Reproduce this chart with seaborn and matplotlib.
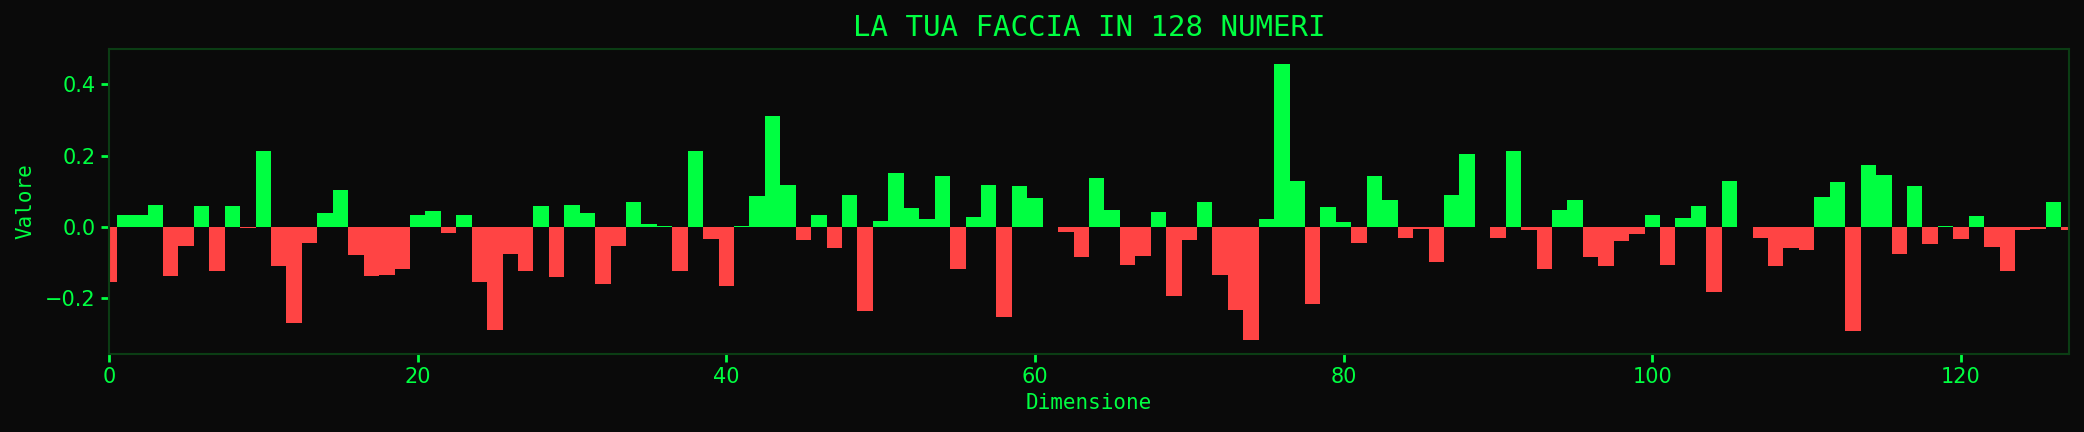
import seaborn as sns
import numpy as np
import matplotlib.pyplot as plt
import pandas as pd

# 128 valori dell'embedding
valori = [
    -0.154, 0.035, 0.033, 0.063, -0.137, -0.053, 0.058, -0.123,
    0.058, -0.003, 0.212, -0.109, -0.268, -0.046, 0.039, 0.103,
    -0.078, -0.137, -0.135, -0.118, 0.033, 0.044, -0.018, 0.033,
    -0.155, -0.289, -0.076, -0.124, 0.058, -0.141, 0.061, 0.038,
    -0.160, -0.054, 0.069, 0.0075, 0.002, -0.124, 0.212, -0.034,
    -0.166, 0.002, 0.086, 0.310, 0.119, -0.037, 0.035, -0.060,
    0.091, -0.236, 0.016, 0.150, 0.052, 0.021, 0.142, -0.118,
    0.027, 0.117, -0.253, 0.114, 0.080, 0.0, -0.015, -0.085,
    0.136, 0.047, -0.107, -0.082, 0.041, -0.194, -0.037, 0.069,
    -0.135, -0.233, -0.317, 0.021, 0.458, 0.128, -0.216, 0.055,
    0.013, -0.046, 0.142, 0.075, -0.032, -0.0065, -0.099, 0.089,
    0.206, 0.0, -0.032, 0.214, -0.009, -0.118, 0.049, 0.075,
    -0.085, -0.110, -0.040, -0.021, 0.035, -0.107, 0.024, 0.058,
    -0.183, 0.128, 0.0, -0.032, -0.110, -0.060, -0.065, 0.083,
    0.125, -0.292, 0.175, 0.145, -0.076, 0.114, -0.048, 0.002,
    -0.034, 0.030, -0.057, -0.124, -0.009, -0.0065, 0.069, -0.009,
]
dimensioni = list(range(len(valori)))

verde = "#00ff41"
rosso = "#ff4444"
sfondo = "#0a0a0a"
bordo = "#0b3d14"

df = pd.DataFrame({"dim": dimensioni, "val": valori})
df["segno"] = np.where(df["val"] >= 0, "pos", "neg")

fig = plt.figure(figsize=(20.84, 4.32), dpi=100, facecolor=sfondo)
ax = fig.add_axes([0.0523, 0.1806, 0.9405, 0.706])
ax.set_facecolor(sfondo)

sns.barplot(data=df, x="dim", y="val", hue="segno",
            palette={"pos": verde, "neg": rosso},
            native_scale=True, width=1, saturation=1,
            linewidth=0, legend=False, ax=ax)

ax.set_xlim(0, 127)
ax.set_ylim(-0.356, 0.499)
ax.set_xticks([0, 20, 40, 60, 80, 100, 120])
ax.set_yticks([-0.2, 0.0, 0.2, 0.4])

mono = ["DejaVu Sans Mono", "DejaVu Sans"]
ax.set_title("LA TUA FACCIA IN 128 NUMERI", color=verde, fontsize=21,
             pad=9, family=mono)
ax.set_xlabel("Dimensione", color=verde, fontsize=15, family=mono)
ax.set_ylabel("Valore", color=verde, fontsize=15, family=mono, labelpad=7)
ax.tick_params(colors=verde, labelsize=15, length=6, width=2)
for s in ax.spines.values():
    s.set_color(bordo)
    s.set_linewidth(1.5)

plt.savefig("out.png", dpi=100, facecolor=sfondo)
